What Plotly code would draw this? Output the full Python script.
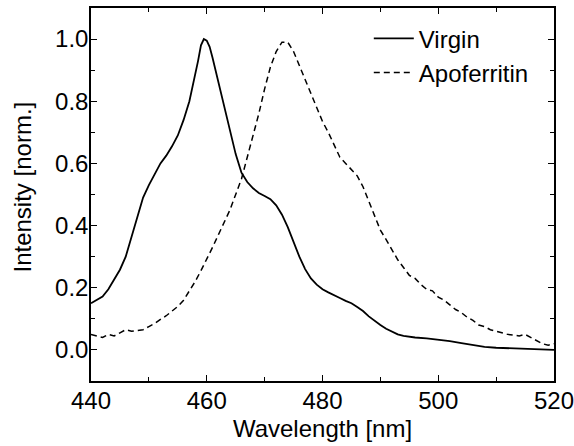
import plotly.graph_objects as go

# Emission spectra, normalised to peak intensity
virgin_wl = [440, 441, 442, 443, 444, 445, 446, 447, 448, 449, 450, 451, 452, 453, 454,
             455, 456, 457, 458, 458.5, 459, 459.5, 460, 460.5, 461, 462, 463, 464, 465,
             466, 467, 468, 469, 470, 471, 472, 473, 474, 475, 476, 477, 478, 479, 480,
             481, 482, 483, 484, 485, 486, 487, 488, 489, 490, 491, 492, 493, 494, 495,
             496, 498, 500, 502, 504, 506, 508, 510, 512, 514, 516, 518, 520]
virgin_int = [0.150, 0.160, 0.172, 0.195, 0.225, 0.258, 0.300, 0.365, 0.430, 0.490, 0.530,
              0.565, 0.600, 0.625, 0.655, 0.690, 0.740, 0.800, 0.880, 0.930, 0.980, 1.000,
              0.995, 0.975, 0.940, 0.860, 0.780, 0.700, 0.630, 0.570, 0.540, 0.520, 0.505,
              0.495, 0.485, 0.465, 0.435, 0.395, 0.345, 0.300, 0.260, 0.230, 0.210, 0.195,
              0.185, 0.175, 0.167, 0.158, 0.150, 0.138, 0.125, 0.108, 0.093, 0.080, 0.068,
              0.058, 0.050, 0.045, 0.042, 0.040, 0.037, 0.033, 0.028, 0.022, 0.016, 0.010,
              0.007, 0.006, 0.004, 0.003, 0.002, 0.000]

apo_wl = list(range(440, 521))
apo_int = [0.050, 0.045, 0.040, 0.050, 0.045, 0.055, 0.065, 0.060, 0.062, 0.065, 0.075,
           0.085, 0.098, 0.110, 0.125, 0.140, 0.160, 0.190, 0.220, 0.255, 0.290, 0.330,
           0.370, 0.410, 0.450, 0.500, 0.550, 0.620, 0.690, 0.760, 0.840, 0.910, 0.960,
           0.990, 0.990, 0.960, 0.915, 0.870, 0.820, 0.775, 0.735, 0.700, 0.660, 0.620,
           0.600, 0.580, 0.560, 0.525, 0.480, 0.430, 0.385, 0.355, 0.320, 0.290, 0.265,
           0.240, 0.230, 0.210, 0.195, 0.190, 0.170, 0.160, 0.145, 0.130, 0.120, 0.105,
           0.095, 0.080, 0.075, 0.065, 0.060, 0.055, 0.050, 0.048, 0.045, 0.050, 0.040,
           0.030, 0.020, 0.015, 0.020]

FONT = "Liberation Sans, Arial, sans-serif"
FS = 24

fig = go.Figure()
fig.add_trace(go.Scatter(x=virgin_wl, y=virgin_int, mode="lines", name="Virgin",
                         line=dict(color="black", width=1.8)))
fig.add_trace(go.Scatter(x=apo_wl, y=apo_int, mode="lines", name="Apoferritin",
                         line=dict(color="black", width=1.5, dash="6px,4px")))

axis_common = dict(
    showline=True, linecolor="black", linewidth=1.5, mirror="ticks",
    ticks="inside", ticklen=6, tickwidth=1.2, tickcolor="black",
    showgrid=False, zeroline=False, automargin=False, ticklabeloverflow="allow",
    tickfont=dict(family=FONT, size=FS, color="black"),
)

fig.update_xaxes(range=[440, 520], dtick=20, tick0=440, ticklabelstandoff=-3,
                 minor=dict(ticks="inside", ticklen=4, dtick=10, tick0=440, tickcolor="black"),
                 title=dict(text="Wavelength [nm]", font=dict(family=FONT, size=FS, color="black"),
                            standoff=8),
                 **axis_common)
fig.update_yaxes(range=[-0.1, 1.1], dtick=0.2, tick0=0, tickformat=".1f", ticklabelstandoff=-4,
                 minor=dict(ticks="inside", ticklen=4, dtick=0.1, tick0=0, tickcolor="black"),
                 **axis_common)

# y-axis title placed as a rotated annotation
fig.add_annotation(text="Intensity [norm.]", textangle=-90, showarrow=False,
                   xref="paper", yref="paper", x=-0.148, y=0.52,
                   xanchor="center", yanchor="middle",
                   font=dict(family=FONT, size=FS, color="black"))

fig.update_layout(
    width=574, height=446,
    margin=dict(l=91, r=20, t=8, b=65),
    plot_bgcolor="white", paper_bgcolor="white",
    legend=dict(x=0.60, y=0.978, xanchor="left", yanchor="top",
                bgcolor="rgba(0,0,0,0)", font=dict(family=FONT, size=FS, color="black"),
                itemwidth=40, tracegroupgap=0),
    showlegend=True,
)

fig.write_html("out.html")
